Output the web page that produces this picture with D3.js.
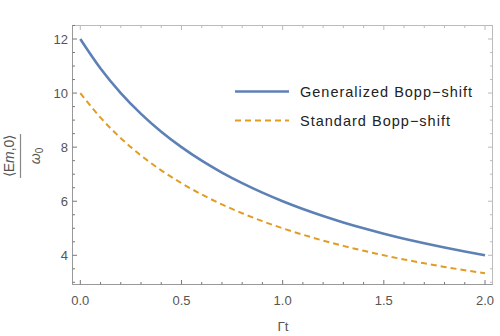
<!DOCTYPE html>
<html><head><meta charset="utf-8">
<script src="https://cdn.jsdelivr.net/npm/d3@7"></script>
<style>body{margin:0;background:#fff}text{font-family:"Liberation Sans",Arial,sans-serif}</style>
</head><body><svg id="c" width="500" height="336"></svg>
<script>
const tValues = [0,0.1,0.2,0.3,0.4,0.5,0.6,0.7,0.8,0.9,1.0,1.1,1.2,1.3,1.4,1.5,1.6,1.7,1.8,1.9,2.0];
const generalized = [12,10.909,10,9.231,8.571,8,7.5,7.059,6.667,6.316,6,5.714,5.455,5.217,5,4.8,4.615,4.444,4.286,4.138,4];
const standard = [10,9.091,8.333,7.692,7.143,6.667,6.25,5.882,5.556,5.263,5,4.762,4.545,4.348,4.167,4,3.846,3.704,3.571,3.448,3.333];
const seriesNames = ["Generalized Bopp\u2212shift","Standard Bopp\u2212shift"];
const xTicks = [0,0.5,1.0,1.5,2.0];
const yTicks = [4,6,8,10,12];

const svg = d3.select("#c");
const L=72.5,R=492.5,T=25.5,B=284.5;
const x = d3.scaleLinear().domain([0,2]).range([80.3,485]);
const y = d3.scaleLinear().domain([4,12]).range([255.3,39]);
const tickCol="#777", frameCol="#999";

svg.append("rect").attr("x",L).attr("y",T).attr("width",R-L).attr("height",B-T)
  .attr("fill","none").attr("stroke","#bbb").attr("stroke-width",1);
svg.append("line").attr("x1",L).attr("x2",L).attr("y1",T).attr("y2",B).attr("stroke",frameCol);
svg.append("line").attr("x1",L).attr("x2",R).attr("y1",B).attr("y2",B).attr("stroke",frameCol);

const xMinor = d3.range(0,2.001,0.1);
const yMinor = d3.range(3,12.51,0.5);
xMinor.forEach(v=>{
  const major = xTicks.some(t=>Math.abs(t-v)<1e-6);
  const len = major?4.5:2.5;
  svg.append("line").attr("x1",x(v)).attr("x2",x(v)).attr("y1",B).attr("y2",B-len).attr("stroke",tickCol);
  svg.append("line").attr("x1",x(v)).attr("x2",x(v)).attr("y1",T).attr("y2",T+len).attr("stroke","#bbb");
});
yMinor.forEach(v=>{
  const major = yTicks.some(t=>Math.abs(t-v)<1e-6);
  const len = major?4.5:2.5;
  svg.append("line").attr("x1",L).attr("x2",L+len).attr("y1",y(v)).attr("y2",y(v)).attr("stroke",tickCol);
  svg.append("line").attr("x1",R).attr("x2",R-len).attr("y1",y(v)).attr("y2",y(v)).attr("stroke","#bbb");
});
svg.selectAll(".xl").data(xTicks).enter().append("text")
  .attr("x",d=>x(d)).attr("y",304.5).attr("text-anchor","middle")
  .attr("font-size",13).attr("fill","#555").text(d=>d3.format(".1f")(d));
svg.selectAll(".yl").data(yTicks).enter().append("text")
  .attr("x",68).attr("y",d=>y(d)+4.6).attr("text-anchor","end")
  .attr("font-size",13).attr("fill","#555").text(d=>d);

svg.append("text").attr("x",283).attr("y",331).attr("text-anchor","middle")
  .attr("font-size",13.5).attr("fill","#555").text("\u0393t");
const g = svg.append("g").attr("transform","translate(0,156) rotate(-90)");
const num = g.append("text").attr("x",0).attr("y",13.5).attr("text-anchor","middle").attr("font-size",14).attr("fill","#555");
num.append("tspan").text("\u27e8E");
num.append("tspan").attr("font-style","italic").text("m");
num.append("tspan").text(",0\u27e9");
g.append("line").attr("x1",-22).attr("x2",22).attr("y1",20.5).attr("y2",20.5).attr("stroke","#888").attr("stroke-width",1.2);
const den = g.append("text").attr("x",0).attr("y",39.5).attr("text-anchor","middle").attr("font-size",14).attr("fill","#555");
den.append("tspan").attr("font-style","italic").text("\u03c9");
den.append("tspan").attr("font-size",10).attr("dy",3).text("0");

const line = d3.line().x(d=>x(d[0])).y(d=>y(d[1])).curve(d3.curveMonotoneX);
svg.append("path").datum(tValues.map((t,i)=>[t,standard[i]]))
  .attr("d",line).attr("fill","none").attr("stroke","#e19c24").attr("stroke-width",2).attr("stroke-dasharray","6,4");
svg.append("path").datum(tValues.map((t,i)=>[t,generalized[i]]))
  .attr("d",line).attr("fill","none").attr("stroke","#5e81b5").attr("stroke-width",2.6);

const leg = [{c:"#5e81b5",w:2.6,d:null,y:91.5,len:172},{c:"#e19c24",w:2,d:"6,4",y:120.5,len:150}];
leg.forEach((l,i)=>{
  const ln = svg.append("line").attr("x1",235).attr("x2",289).attr("y1",l.y).attr("y2",l.y)
    .attr("stroke",l.c).attr("stroke-width",l.w);
  if(l.d) ln.attr("stroke-dasharray",l.d);
  svg.append("text").attr("x",300).attr("y",l.y+5).attr("font-size",14.5).attr("fill","#222")
    .attr("textLength",l.len).attr("lengthAdjust","spacing").text(seriesNames[i]);
});
</script></body></html>
